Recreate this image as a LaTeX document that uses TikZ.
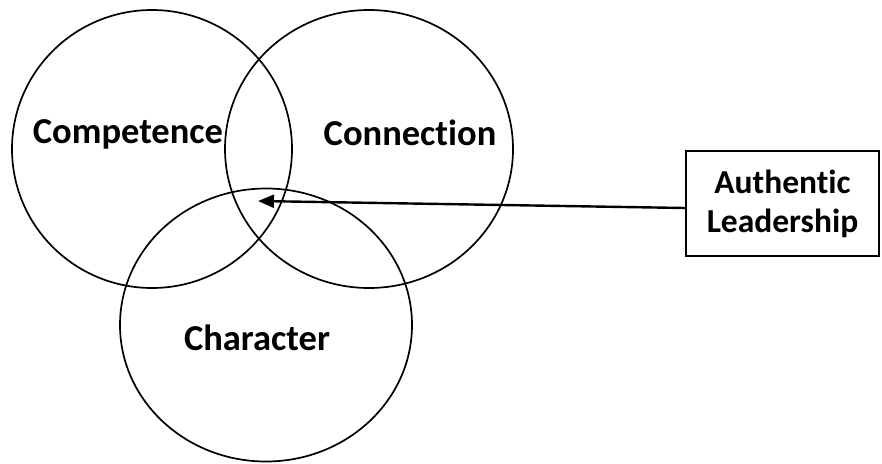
\documentclass[tikz,border=0pt]{standalone}
\usepackage{fontspec}
\setmainfont[RawFeature=-liga]{Carlito}
\usetikzlibrary{shapes.geometric,arrows.meta}
\begin{document}
\begin{tikzpicture}[x=1pt,y=-1pt,
  ring/.style={draw=black,line width=1.7pt,ellipse,inner sep=0pt,outer sep=0pt},
  lbl/.style={font=\bfseries\fontsize{36.5}{44}\selectfont,inner sep=0pt},
  boxnode/.style={draw=black,line width=1.7pt,rectangle,align=center,inner sep=0pt,
    font=\bfseries\fontsize{33.5}{39}\selectfont},
  conn/.style={line width=2.4pt,-{Triangle[length=16pt,width=13pt]}}]
\useasboundingbox (0,0) rectangle (882,463);
\node[ring,minimum width=280pt,minimum height=278pt] (comp) at (152,149) {};
\node[ring,minimum width=288pt,minimum height=278pt] (conn) at (369,149) {};
\node[ring,minimum width=292pt,minimum height=273pt] (char) at (266,325) {};
\node[lbl] (tcomp) at (128,134) {Competence};
\node[lbl] (tconn) at (410,133) {Connection};
\node[lbl] (tchar) at (257,338) {Character};
\node[boxnode,minimum width=193pt,minimum height=105pt] (auth) at (782.5,203.5) {Authentic\\Leadership};
\coordinate (tip) at (258,201);
\coordinate (start) at ([yshift=-4.5pt]auth.west);
\draw[conn] (start) -- (tip);
\end{tikzpicture}
\end{document}
